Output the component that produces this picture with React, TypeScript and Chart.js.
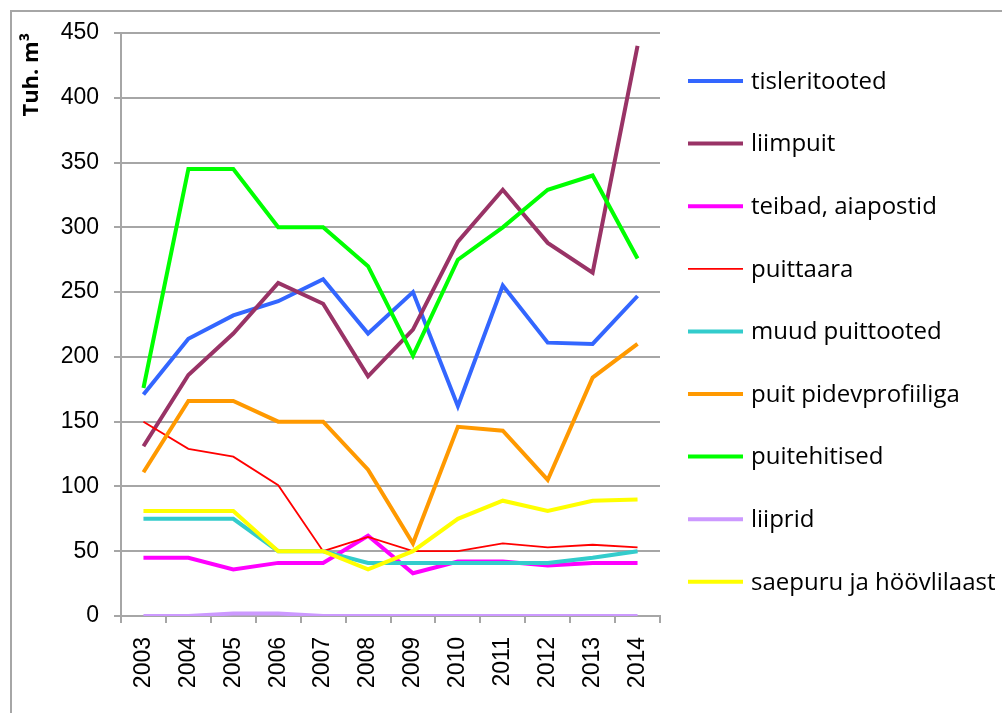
import { useEffect, useRef } from 'react';
import { Chart, registerables } from 'chart.js';

Chart.register(...registerables);

const years = ['2003', '2004', '2005', '2006', '2007', '2008', '2009', '2010', '2011', '2012', '2013', '2014'];

const tisleritooted = [171, 214, 232, 243, 260, 218, 250, 162, 255, 211, 210, 247];
const liimpuit = [131, 186, 218, 257, 241, 185, 221, 289, 329, 288, 265, 440];
const teibadAiapostid = [45, 45, 36, 41, 41, 62, 33, 42, 42, 39, 41, 41];
const puittaara = [150, 129, 123, 101, 50, 61, 50, 50, 56, 53, 55, 53];
const muudPuittooted = [75, 75, 75, 50, 50, 41, 41, 41, 41, 41, 45, 50];
const puitPidevprofiiliga = [111, 166, 166, 150, 150, 113, 56, 146, 143, 105, 184, 210];
const puitehitised = [176, 345, 345, 300, 300, 270, 201, 275, 300, 329, 340, 276];
const liiprid = [0, 0, 2, 2, 0, 0, 0, 0, 0, 0, 0, 0];
const saepuruJaHoovlilaast = [81, 81, 81, 50, 50, 36, 50, 75, 89, 81, 89, 90];

const seriesNames = [
  'tisleritooted',
  'liimpuit',
  'teibad, aiapostid',
  'puittaara',
  'muud puittooted',
  'puit pidevprofiiliga',
  'puitehitised',
  'liiprid',
  'saepuru ja höövlilaast',
];
const seriesValues = [
  tisleritooted,
  liimpuit,
  teibadAiapostid,
  puittaara,
  muudPuittooted,
  puitPidevprofiiliga,
  puitehitised,
  liiprid,
  saepuruJaHoovlilaast,
];
const seriesColors = ['#3366FF', '#993366', '#FF00FF', '#FF0000', '#33CCCC', '#FF9900', '#00FF00', '#CC99FF', '#FFFF00'];
const seriesWidths = [4, 4, 4, 1.8, 4, 4, 4, 4, 4];

const yTicks = { min: 0, max: 450, step: 50 };
const yTitle = 'Tuh. m³';

const GRID = '#a6a6a6';

const sideLegend = {
  id: 'sideLegend',
  afterDraw(chart: any) {
    const { ctx, chartArea } = chart;
    const x0 = chartArea.right + 28;
    const top = 81;
    const step = 62.6;
    ctx.save();
    ctx.font = '24px "Open Sans"';
    ctx.textBaseline = 'middle';
    ctx.textAlign = 'left';
    chart.data.datasets.forEach((ds: any, i: number) => {
      const y = top + i * step;
      ctx.strokeStyle = ds.borderColor;
      ctx.lineWidth = ds.borderWidth;
      ctx.beginPath();
      ctx.moveTo(x0, y);
      ctx.lineTo(x0 + 55, y);
      ctx.stroke();
      ctx.fillStyle = '#000';
      ctx.fillText(ds.label, x0 + 63, y + 1);
    });
    ctx.restore();
  },
};

export default function App() {
  const ref = useRef<HTMLCanvasElement | null>(null);

  useEffect(() => {
    if (!ref.current) return;
    const chart = new Chart(ref.current, {
      type: 'line',
      data: {
        labels: years,
        datasets: seriesNames.map((name, i) => ({
          label: name,
          data: seriesValues[i],
          borderColor: seriesColors[i],
          backgroundColor: seriesColors[i],
          borderWidth: seriesWidths[i],
          pointRadius: 0,
          pointHoverRadius: 0,
          tension: 0,
          fill: false,
          order: -i,
        })),
      },
      options: {
        animation: false,
        responsive: false,
        layout: { padding: { left: 10, top: 33, right: 342, bottom: 0 } },
        plugins: {
          legend: { display: false },
          tooltip: { enabled: false },
        },
        scales: {
          x: {
            type: 'category',
            offset: true,
            grid: {
              offset: true,
              drawOnChartArea: false,
              drawTicks: true,
              tickLength: 7,
              color: GRID,
              lineWidth: 2,
            },
            border: { display: true, color: GRID, width: 2 },
            ticks: {
              minRotation: 90,
              maxRotation: 90,
              padding: 14,
              color: '#000',
              font: { family: '"Liberation Sans", Arial, sans-serif', size: 23 },
            },
            afterFit(scale: any) {
              scale.height = 97;
            },
          },
          y: {
            min: yTicks.min,
            max: yTicks.max,
            ticks: {
              stepSize: yTicks.step,
              padding: 15,
              color: '#000',
              font: { family: '"Liberation Sans", Arial, sans-serif', size: 23 },
            },
            grid: {
              color: GRID,
              lineWidth: 2,
              drawTicks: true,
              tickLength: 7,
            },
            border: { display: true, color: GRID, width: 2 },
            title: {
              display: true,
              text: yTitle,
              align: 'end',
              color: '#000',
              font: { family: '"Open Sans", sans-serif', size: 22, weight: 'bold' },
              padding: { top: 9, bottom: 0 },
            },
            afterFit(scale: any) {
              scale.width = 111;
            },
          },
        },
      },
      plugins: [sideLegend],
    } as any);
    return () => chart.destroy();
  }, []);

  return (
    <div style={{ position: 'absolute', left: 0, top: 0, width: 1002, height: 713, background: '#fff', overflow: 'hidden' }}>
      <div
        style={{
          position: 'absolute',
          left: 10,
          top: 10,
          width: 1002,
          height: 713,
          borderTop: '2px solid #a6a6a6',
          borderLeft: '2px solid #a6a6a6',
        }}
      />
      <canvas ref={ref} width={1002} height={713} style={{ position: 'absolute', left: 0, top: 0, display: 'block' }} />
    </div>
  );
}
